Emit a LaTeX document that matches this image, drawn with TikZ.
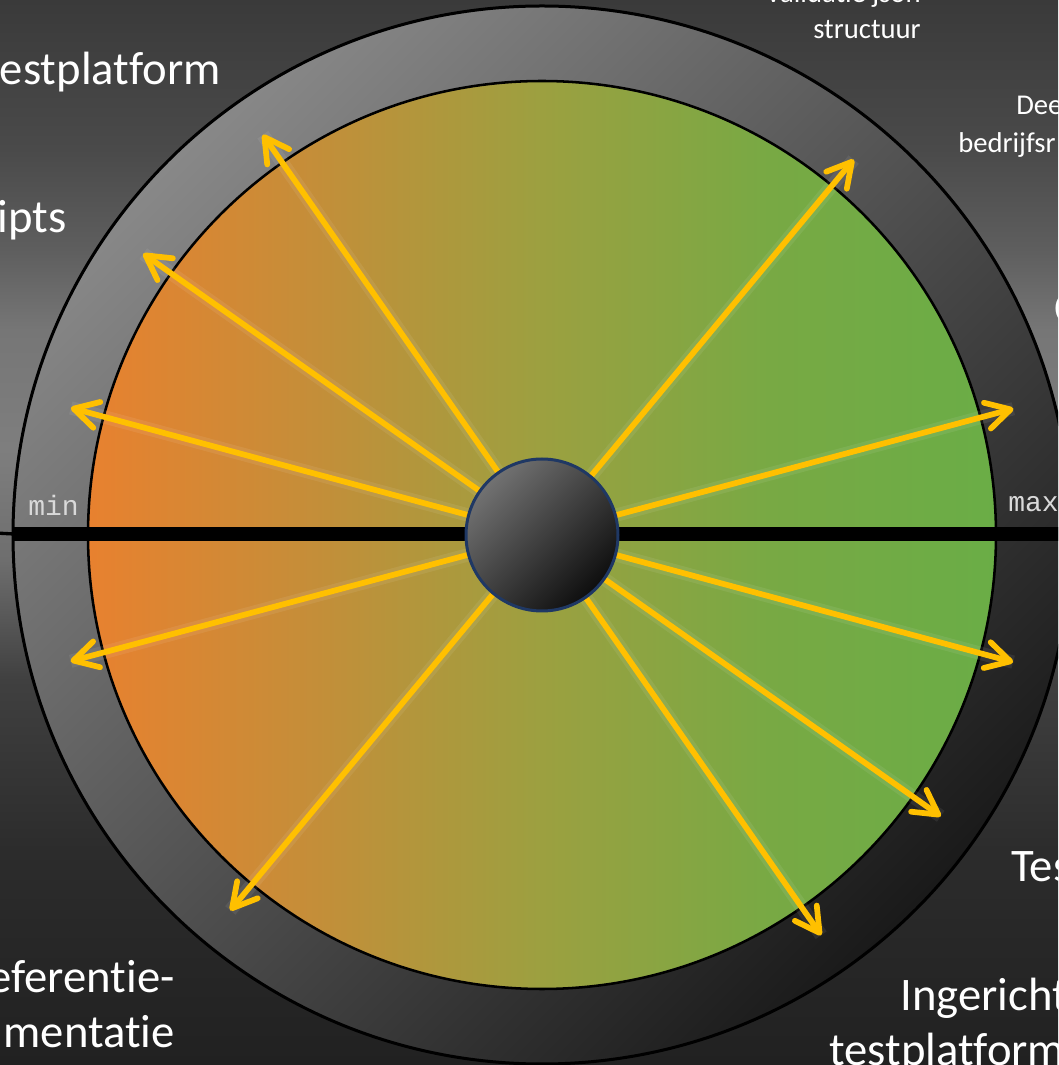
\documentclass[tikz,border=0pt]{standalone}
\usepackage{fontspec}
\setmainfont{Carlito}[Ligatures={NoCommon}]
\newfontfamily\monofont{Liberation Mono}
\usetikzlibrary{arrows.meta,calc}
\definecolor{bg0}{HTML}{212121}
\definecolor{bg1}{HTML}{2C2C2C}
\definecolor{bg2}{HTML}{404040}
\definecolor{bg3}{HTML}{6E6E6E}
\definecolor{bg4}{HTML}{7E7E7E}
\definecolor{bg5}{HTML}{767676}
\definecolor{bg6}{HTML}{5E5E5E}
\definecolor{bg7}{HTML}{4A4A4A}
\definecolor{bg8}{HTML}{3A3A3A}
\definecolor{dA}{HTML}{E8812F}
\definecolor{dB}{HTML}{C48E39}
\definecolor{dC}{HTML}{9CA040}
\definecolor{dD}{HTML}{78A944}
\definecolor{dE}{HTML}{6AAD46}
\definecolor{ringA}{HTML}{888888}
\definecolor{ringM}{HTML}{4E4E4E}
\definecolor{ringB}{HTML}{1A1A1A}
\definecolor{knobA}{HTML}{727272}
\definecolor{knobM}{HTML}{2C2C2C}
\definecolor{knobB}{HTML}{0E0E0E}
\definecolor{knobEdge}{HTML}{1F3864}
\definecolor{arrowc}{HTML}{FFC000}
\definecolor{labelgray}{HTML}{D9D9D9}
\pgfdeclareverticalshading{bgshade}{100bp}{color(0bp)=(bg0); color(25bp)=(bg0); color(35.1bp)=(bg1); color(43.1bp)=(bg2); color(48.7bp)=(bg3); color(53.9bp)=(bg4); color(59.5bp)=(bg5); color(63.3bp)=(bg6); color(68bp)=(bg7); color(75bp)=(bg8); color(100bp)=(bg8)}
\pgfdeclarehorizontalshading{diskshade}{100bp}{color(0bp)=(dA); color(25bp)=(dA); color(37.5bp)=(dB); color(50bp)=(dC); color(62.5bp)=(dD); color(75bp)=(dE); color(100bp)=(dE)}
\tikzset{
  yb/.tip={Straight Barb[length=18pt,width=20pt,round]},
  arr/.style={draw=arrowc, line width=4.3pt, yb-yb},
  halo/.style={draw=white, line width=10pt, opacity=0.07},
  big/.style={text=white, font=\fontsize{35}{42}\selectfont, inner sep=0pt},
  small/.style={text=white, font=\fontsize{21.5}{26}\selectfont, inner sep=0pt},
  mono/.style={text=labelgray, font=\monofont\fontsize{21}{25}\selectfont, inner sep=0pt},
}
\begin{document}
\begin{tikzpicture}[x=0.75pt,y=0.75pt]
\useasboundingbox (0,0) rectangle (1058,1065);
\clip (0,0) rectangle (1058,1065);
\shade[shading=bgshade] (0,0) rectangle (1058,1065);
\coordinate (C) at (542,530);
% outer ring
\shade[top color=ringA, middle color=ringM, bottom color=ringB, shading angle=45, draw=black, line width=2.25pt] (C) circle[radius=529];
% inner disk
\shade[shading=diskshade, draw=black, line width=1.9pt] (C) circle[radius=454];
% bar
\coordinate (barL) at (14,531);
\coordinate (barR) at (1075,531);
\coordinate (thinL) at (-5,532);
\draw[line width=10.5pt] (barL) -- (barR);
\draw[line width=2.5pt] (thinL) -- (barL);
% labels min / max
\node[mono, anchor=base west] (minlbl) at (28,549) {min};
\node[mono, anchor=base west] (maxlbl) at (1008,553) {max};
% arrow end points
\coordinate (a1) at ($(C)+(124.9:488)$);
\coordinate (a2) at ($(C)+(304.9:488)$);
\coordinate (b1) at ($(C)+(50.3:488)$);
\coordinate (b2) at ($(C)+(230.3:488)$);
\coordinate (c1) at ($(C)+(144.8:488)$);
\coordinate (c2) at ($(C)+(324.8:488)$);
\coordinate (d1) at ($(C)+(164.9:488)$);
\coordinate (d2) at ($(C)+(344.9:488)$);
\coordinate (e1) at ($(C)+(15.0:488)$);
\coordinate (e2) at ($(C)+(195.0:488)$);
\foreach \p/\q in {a1/a2,b1/b2,c1/c2,d1/d2,e1/e2}{
  \draw[halo] (\p) -- (\q);
}
\foreach \p/\q in {a1/a2,b1/b2,c1/c2,d1/d2,e1/e2}{
  \draw[arr] (\p) -- (\q);
}
% knob
\node[circle, minimum size=114pt, inner sep=0pt, draw=knobEdge, line width=2.25pt,
      top color=knobA, middle color=knobM, bottom color=knobB, shading angle=45] (knob) at (C) {};
% texts
\node[small, anchor=base east] (t1a) at (921,1062) {Validatie json};
\node[small, anchor=base east] (t1b) at (921,1026) {structuur};
\node[small, anchor=base west] (t2a) at (1016,950) {Dee};
\node[small, anchor=base west] (t2b) at (958,912) {bedrijfsr};
\node[big, anchor=base west] (t3) at (1054,741) {C};
\node[big, anchor=base west] (t4) at (1011,183) {Tes};
\node[big, anchor=base west] (t5a) at (900,55) {Ingericht};
\node[big, anchor=base west] (t5b) at (829,0) {testplatform};
\node[big, anchor=base east] (t6) at (221,980) {estplatform};
\node[big, anchor=base east] (t7) at (67,832) {ipts};
\node[big, anchor=base east] (t8a) at (175,72) {eferentie-};
\node[big, anchor=base east] (t8b) at (175,17) {mentatie};
\end{tikzpicture}
\end{document}
